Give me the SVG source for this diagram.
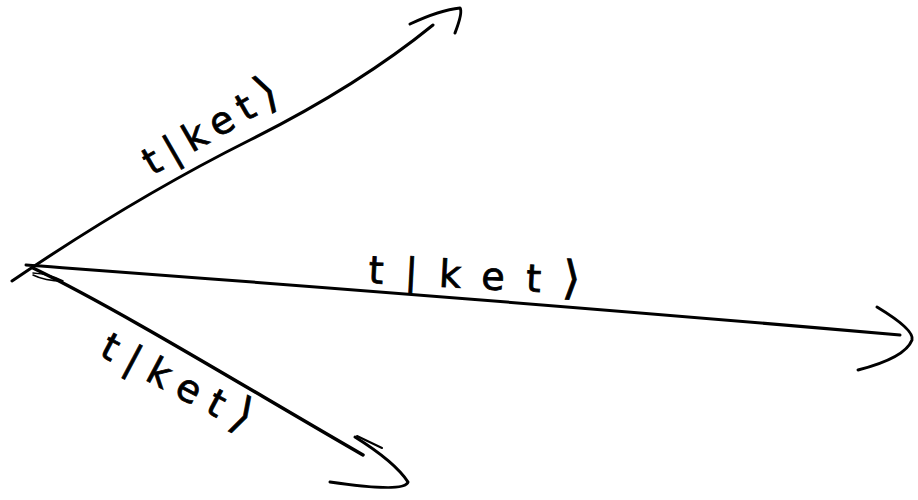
<svg xmlns="http://www.w3.org/2000/svg" width="918" height="500" viewBox="0 0 918 500">
<style>
.s{fill:none;stroke:#000;stroke-linecap:round;stroke-linejoin:round}
.lbl{font-family:"DejaVu Sans","Liberation Sans",sans-serif;font-size:38px;fill:#000;stroke:#000;stroke-width:0.8}
.k{font-size:46px}
</style>
<rect width="918" height="500" fill="#fff"/>
<g id="connectors">
<path class="s" stroke-width="3" d="M12,281 C90,228 170,180 250,140 S390,60 433,25"/>
<path class="s" stroke-width="3" d="M410,24 Q440,10 460,8 Q463,12 455,33"/>
<path class="s" stroke-width="3" d="M26,265 C200,278 500,300 900,335"/>
<path class="s" stroke-width="3" d="M877,307 Q915,330 912,340 Q905,358 858,370"/>
<path class="s" stroke-width="3.5" d="M33,268 C120,310 250,390 363,455"/>
<path class="s" stroke-width="3" d="M355,437 Q395,462 408,482 Q405,493 330,482"/>
<path class="s" stroke-width="2" d="M357,436 L382,448"/>
<path class="s" stroke-width="1.5" d="M33,273 Q50,274 63,281 Q45,281 33,275"/>
</g>
<g id="label-up"><text class="lbl" transform="translate(152,176) rotate(-30)" textLength="150" lengthAdjust="spacing">t|ket<tspan class="k">⟩</tspan></text></g>
<g id="label-mid"><text class="lbl" transform="translate(368,283) rotate(3)" textLength="212" lengthAdjust="spacing">t|ket<tspan class="k">⟩</tspan></text></g>
<g id="label-down"><text class="lbl" transform="translate(98,355) rotate(28)" textLength="165" lengthAdjust="spacing">t|ket<tspan class="k">⟩</tspan></text></g>
</svg>
